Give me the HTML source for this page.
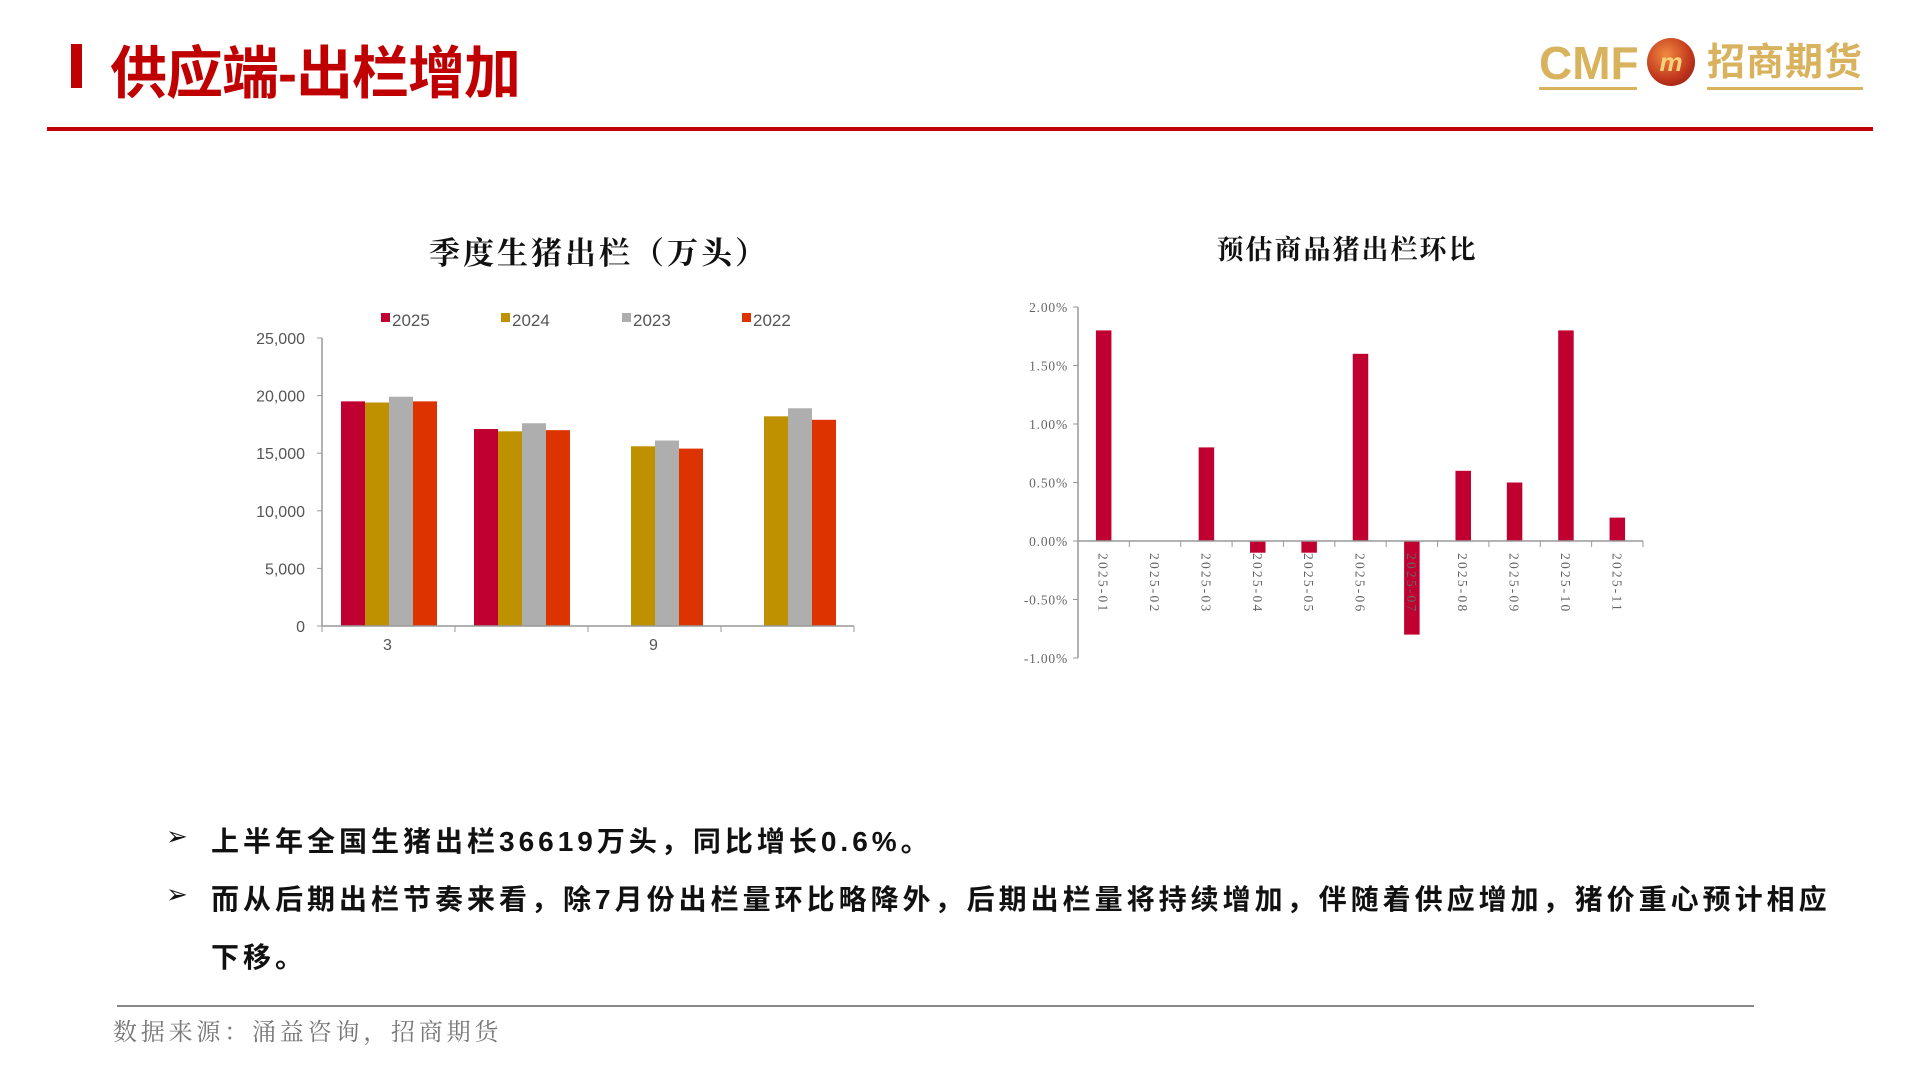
<!DOCTYPE html>
<html><head><meta charset="utf-8">
<style>
html,body{margin:0;padding:0;background:#fff;}
body{width:1920px;height:1080px;overflow:hidden;position:relative;font-family:"Liberation Sans","Noto Sans CJK SC",sans-serif;}
.abs{position:absolute;}
.bul{position:absolute;left:211px;font-size:28px;font-weight:bold;color:#111;letter-spacing:4px;white-space:nowrap;font-family:"Liberation Sans","Noto Sans CJK SC",sans-serif;}
.arr{position:absolute;left:166px;font-size:26px;color:#111;}
</style></head>
<body>
<div class="abs" style="left:71px;top:44px;width:11px;height:44px;background:#c00000"></div>
<div class="abs" style="left:110px;top:28px;font-size:57px;font-weight:bold;color:#c00000;font-family:'Liberation Sans','Noto Sans CJK SC',sans-serif;letter-spacing:-1px">供应端-出栏增加</div>
<div class="abs" style="left:1539px;top:38px;width:330px;height:54px">
  <div class="abs" style="left:0;top:0;font-size:46px;font-weight:bold;color:#d9b25e;line-height:50px">CMF</div>
  <div class="abs" style="left:0;top:49px;width:98px;height:3px;background:#d9b25e"></div>
  <div class="abs" style="left:108px;top:0;width:48px;height:48px;border-radius:50%;background:radial-gradient(circle at 40% 35%,#f08a40,#c0341c 60%,#7a1a10);color:#f6d37a;font-weight:bold;font-style:italic;font-size:26px;text-align:center;line-height:48px">m</div>
  <div class="abs" style="left:168px;top:2px;font-size:38px;font-weight:bold;color:#d9b25e;line-height:46px;letter-spacing:1px">招商期货</div>
  <div class="abs" style="left:168px;top:49px;width:156px;height:3px;background:#d9b25e"></div>
</div>
<div class="abs" style="left:47px;top:127px;width:1826px;height:4px;background:#c00000"></div>

<svg class="abs" style="left:0;top:0" width="1920" height="1080" id="charts">
 <text x="599" y="264" text-anchor="middle" font-size="31" font-weight="bold" fill="#111" font-family="Liberation Serif,Noto Serif CJK SC,serif" letter-spacing="3">季度生猪出栏（万头）</text>
 <text x="1347" y="259" text-anchor="middle" font-size="27" font-weight="bold" fill="#111" font-family="Liberation Serif,Noto Serif CJK SC,serif" letter-spacing="2">预估商品猪出栏环比</text>
 <g id="left"></g>
 <g id="right"></g>
</svg>

<div class="arr" style="top:821px">➢</div>
<div class="bul" style="top:820px">上半年全国生猪出栏36619万头，同比增长0.6%。</div>
<div class="arr" style="top:879px">➢</div>
<div class="bul" style="top:878px">而从后期出栏节奏来看，除7月份出栏量环比略降外，后期出栏量将持续增加，伴随着供应增加，猪价重心预计相应</div>
<div class="bul" style="top:936px">下移。</div>
<div class="abs" style="left:117px;top:1005px;width:1637px;height:2px;background:#888"></div>
<div class="abs" style="left:113px;top:1012px;font-size:24px;color:#777;font-family:'Liberation Serif','Noto Serif CJK SC',serif;letter-spacing:3.8px">数据来源：涌益咨询，招商期货</div>

<script>
const NS='http://www.w3.org/2000/svg';
const qCategories=['3','6','9','12'];
const qLabels=['3','','9',''];
const qSeriesNames=['2025','2024','2023','2022'];
const q2025=[19500,17100,null,null];
const q2024=[19400,16900,15600,18200];
const q2023=[19900,17600,16100,18900];
const q2022=[19500,17000,15400,17900];
const qTicks=[0,5000,10000,15000,20000,25000];
const qTickLabels=['0','5,000','10,000','15,000','20,000','25,000'];

const mCategories=['2025-01','2025-02','2025-03','2025-04','2025-05','2025-06','2025-07','2025-08','2025-09','2025-10','2025-11'];
const mValues=[1.8,0,0.8,-0.1,-0.1,1.6,-0.8,0.6,0.5,1.8,0.2];
const mTicks=[-1,-0.5,0,0.5,1,1.5,2];
const mTickLabels=['-1.00%','-0.50%','0.00%','0.50%','1.00%','1.50%','2.00%'];

function mk(tag,attrs,parent){const e=document.createElementNS(NS,tag);for(const k in attrs)e.setAttribute(k,attrs[k]);parent.appendChild(e);return e;}

(function(){
 const g=document.getElementById('left');
 const x0=322,x1=854,y0=626,yTop=338;
 const yS=v=>y0-(v/25000)*(y0-yTop);
 const cw=(x1-x0)/qCategories.length;
 const colors=['#c00030','#bf9000','#aeaeae','#dd3300'];
 const series=[q2025,q2024,q2023,q2022];
 const bw=24, off=19;
 series.forEach((s,si)=>{s.forEach((v,ci)=>{if(v==null)return;
   const r=mk('rect',{x:x0+ci*cw+off+si*bw,y:yS(v),width:bw,height:y0-yS(v),fill:colors[si]},g);
   
   
 });});
 mk('line',{x1:x0,y1:yTop,x2:x0,y2:y0,stroke:'#999','stroke-width':1.5},g);
 mk('line',{x1:x0,y1:y0,x2:x1,y2:y0,stroke:'#999','stroke-width':1.5},g);
 qTicks.forEach((t,i)=>{const y=yS(t);
   mk('line',{x1:x0-5,y1:y,x2:x0,y2:y,stroke:'#999'},g);
   const tx=mk('text',{x:x0-17,y:y+6,'text-anchor':'end','font-size':16,fill:'#555','font-family':'Liberation Sans,sans-serif'},g);
   tx.textContent=qTickLabels[i];
   
   
 });
 for(let i=0;i<=qCategories.length;i++){const x=x0+i*cw;mk('line',{x1:x,y1:y0,x2:x,y2:y0+6,stroke:'#999'},g);}
 qLabels.forEach((l,i)=>{const tx=mk('text',{x:x0+(i+0.5)*cw-1,y:650,'text-anchor':'middle','font-size':16,fill:'#555','font-family':'Liberation Sans,sans-serif'},g);
   tx.textContent=l;
   
   });
 const lx=[381,501,622,742];
 qSeriesNames.forEach((n,i)=>{
   const r=mk('rect',{x:lx[i],y:313,width:9,height:9,fill:colors[i]},g);
   
   
   const t=mk('text',{x:lx[i]+11,y:326,'font-size':17,fill:'#555','font-family':'Liberation Sans,sans-serif'},g);
   t.textContent=n;
   
   
 });
})();

(function(){
 const g=document.getElementById('right');
 const x0=1078,x1=1643,yTop=307,yBot=658;
 const yS=v=>yTop+(2-v)/3*(yBot-yTop);
 const cw=(x1-x0)/mCategories.length;
 const bw=15.5;
 mValues.forEach((v,i)=>{
   const cx=x0+(i+0.5)*cw;
   const y=Math.min(yS(v),yS(0)),h=Math.abs(yS(v)-yS(0));
   const r=mk('rect',{x:cx-bw/2,y:y,width:bw,height:h,fill:'#c00030'},g);
   
   
 });
 mk('line',{x1:x0,y1:yTop,x2:x0,y2:yBot,stroke:'#999','stroke-width':1.5},g);
 mk('line',{x1:x0,y1:yS(0),x2:x1,y2:yS(0),stroke:'#999','stroke-width':1.5},g);
 mTicks.forEach((t,i)=>{const y=yS(t);
   mk('line',{x1:x0-5,y1:y,x2:x0,y2:y,stroke:'#999'},g);
   const tx=mk('text',{x:x0-10,y:y+5,'text-anchor':'end','font-size':13.5,fill:'#666','font-family':'Liberation Serif,serif','letter-spacing':0.8},g);
   tx.textContent=mTickLabels[i];
   
   
 });
 for(let i=0;i<=mCategories.length;i++){const x=x0+i*cw;mk('line',{x1:x,y1:yS(0),x2:x,y2:yS(0)+6,stroke:'#999'},g);}
 mCategories.forEach((c,i)=>{const cx=x0+(i+0.5)*cw;
   const tx=mk('text',{x:0,y:0,'font-size':13.5,fill:'#666','font-family':'Liberation Serif,serif','letter-spacing':2.2,transform:'translate('+(cx-5)+','+(yS(0)+12)+') rotate(90)'},g);
   tx.textContent=c;
   
   
 });
})();
</script>
</body></html>
